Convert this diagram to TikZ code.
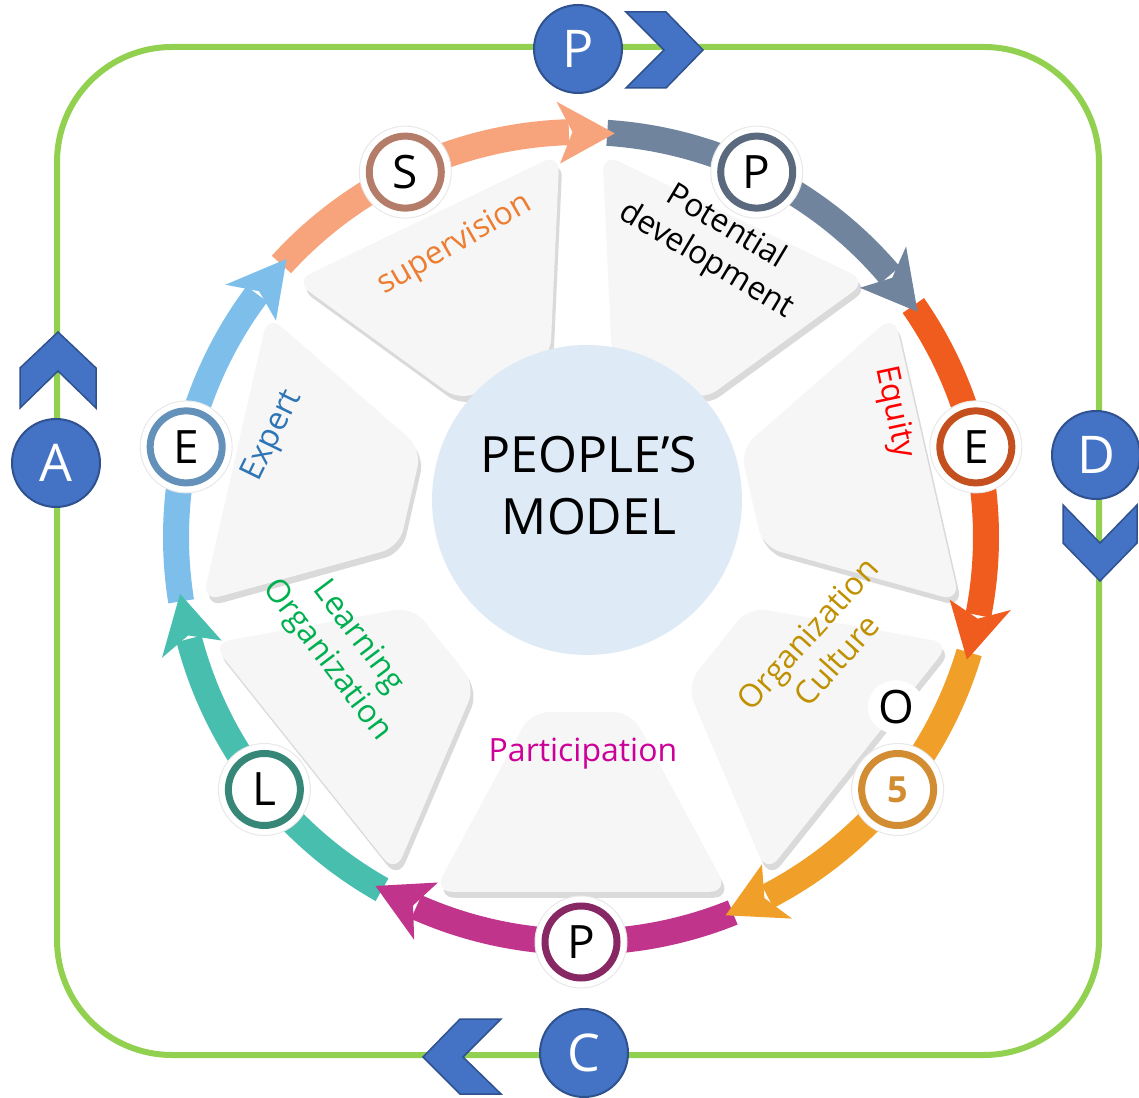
\documentclass[tikz,border=0pt]{standalone}
\usepackage{fontspec}
\setmainfont{Open Sans}
\usetikzlibrary{shapes.geometric}
\definecolor{frameg}{RGB}{146,208,80}
\definecolor{bfill}{RGB}{68,114,196}
\definecolor{bdraw}{RGB}{47,82,143}
\definecolor{innerb}{RGB}{222,235,247}
\definecolor{panelf}{RGB}{246,246,246}
\definecolor{panels}{RGB}{218,218,218}
\definecolor{segS}{RGB}{247,163,124}\definecolor{rinS}{RGB}{180,125,105}
\definecolor{segPa}{RGB}{112,132,158}\definecolor{rinPa}{RGB}{90,105,125}
\definecolor{segEa}{RGB}{240,92,30}\definecolor{rinEa}{RGB}{195,80,30}
\definecolor{segO}{RGB}{240,160,40}\definecolor{rinO}{RGB}{210,140,50}
\definecolor{segPb}{RGB}{192,52,140}\definecolor{rinPb}{RGB}{135,40,100}
\definecolor{segL}{RGB}{72,190,175}\definecolor{rinL}{RGB}{55,135,120}
\definecolor{segEb}{RGB}{125,190,235}\definecolor{rinEb}{RGB}{100,145,185}
\definecolor{txS}{RGB}{237,125,49}
\definecolor{txE}{RGB}{255,0,0}
\definecolor{txO}{RGB}{191,144,0}
\definecolor{txP}{RGB}{204,0,153}
\definecolor{txL}{RGB}{0,176,80}
\definecolor{txX}{RGB}{46,117,182}
\tikzset{
  bluecirc/.style={circle, minimum size=88, inner sep=0, fill=bfill, draw=bdraw, line width=2,
    text=white, font=\fontsize{52}{52}\selectfont},
  chevron/.style={fill=bfill, draw=bdraw, line width=1.5, line join=miter},
  halo/.style={circle, minimum size=92, inner sep=0, fill=white, draw=gray!18, line width=1},
  marker/.style={circle, minimum size=72, inner sep=0, fill=white, line width=7,
    font=\fontsize{46}{46}\selectfont},
  lbl/.style={font=\fontsize{32}{39}\selectfont, align=center, inner sep=0},
}
\begin{document}
\begin{tikzpicture}[x=1pt,y=1pt]
\useasboundingbox (0,0) rectangle (1139,1097);

% green frame
\draw[frameg, line width=6, rounded corners=115] (57,42) rectangle (1099,1050);

% chevrons
\filldraw[chevron] (626,1085) -- (666,1085) -- (703,1047) -- (666,1009) -- (626,1009) -- (664,1047) -- cycle;
\filldraw[chevron] (58,765) -- (96,729) -- (96,689) -- (58,726) -- (20,689) -- (20,729) -- cycle;
\filldraw[chevron] (1063,592) -- (1100,554) -- (1137,592) -- (1137,554) -- (1100,516) -- (1063,554) -- cycle;
\filldraw[chevron] (423,40) -- (460,78) -- (501,78) -- (463,40) -- (501,3) -- (460,3) -- cycle;

% blue circles
\node[bluecirc] (bP) at (578,1048) {P};
\node[bluecirc] (bA) at (56,634) {A};
\node[bluecirc] (bD) at (1096,642) {D};
\node[bluecirc] (bC) at (584,44) {C};

\begin{scope}[shift={(581,560)}]
% panels
\foreach \a in {-90,-38.571,12.857,64.286,115.714,167.143,218.571}{
  \pgfmathsetmacro{\pa}{\a+22.5}\pgfmathsetmacro{\pb}{\a-22.5}
  \pgfmathsetmacro{\pc}{\a-16}\pgfmathsetmacro{\pd}{\a+16}
  \fill[panels, rounded corners=18] ([shift={(3,-6)}]\pa:384) -- ([shift={(3,-6)}]\pb:384) -- ([shift={(3,-6)}]\pc:182) -- ([shift={(3,-6)}]\pd:182) -- cycle;
  \fill[panelf, rounded corners=18] (\pa:384) -- (\pb:384) -- (\pc:182) -- (\pd:182) -- cycle;
}
% bands
\foreach \a/\c in {-90/segPb,-38.571/segO,12.857/segEa,64.286/segPa,115.714/segS,167.143/segEb,218.571/segL}{
  \pgfmathsetmacro{\sa}{\a+22}\pgfmathsetmacro{\ea}{\a-24}
  \fill[\c] (\sa:418) arc[start angle=\sa, end angle=\ea, radius=418] -- (\ea:392) arc[start angle=\ea, end angle=\sa, radius=392] -- cycle;
}
% arrowheads
\foreach \a/\c in {-90/segPb,-38.571/segO,12.857/segEa,64.286/segPa,115.714/segS,167.143/segEb,218.571/segL}{
  \pgfmathsetmacro{\ba}{\a-22.5}\pgfmathsetmacro{\ta}{\a-30.5}\pgfmathsetmacro{\na}{\a-24.5}
  \fill[\c] (\ba:436) -- (\ta:405) -- (\ba:374) -- (\na:405) -- cycle;
}
% markers
\foreach \a/\c/\t/\k in {-90/rinPb/P/1,12.857/rinEa/E/3,64.286/rinPa/P/4,115.714/rinS/S/5,167.143/rinEb/E/6,218.571/rinL/L/7}{
  \node[halo] (h\k) at (\a:405) {};
  \node[marker, draw=\c] (m\k) at (\a:405) {\t};
}
\node[halo] (h2) at (-38.571:405) {};
\node[marker, draw=rinO, text=rinO, font=\fontsize{36}{36}\bfseries] (m2) at (-38.571:405) {5};
\end{scope}

% center
\node[circle, fill=innerb, minimum size=310, inner sep=0] (core) at (587,597) {};
\node[font=\fontsize{50}{62}\selectfont, align=center, inner sep=0] (title) at (589,611) {PEOPLE’S\\MODEL};

% O letter
\node[ellipse, fill=white, inner sep=2, font=\fontsize{46}{46}\selectfont] (oletter) at (896,390) {O};

% labels
\node[lbl, text=txS, rotate=30] (lsup) at (455,852) {supervision};
\node[lbl, text=black, rotate=-31] (lpot) at (716,853) {Potential\\development};
\node[lbl, text=txE, rotate=-78] (lequ) at (894,685) {Equity};
\node[lbl, text=txO, rotate=48] (lorg) at (822,450) {Organization\\Culture};
\node[lbl, text=txP] (lpar) at (583,343) {Participation};
\node[lbl, text=txL, rotate=-53] (llea) at (342,448) {Learning\\Organization};
\node[lbl, text=txX, rotate=64] (lexp) at (273,661) {Expert};
\end{tikzpicture}
\end{document}
